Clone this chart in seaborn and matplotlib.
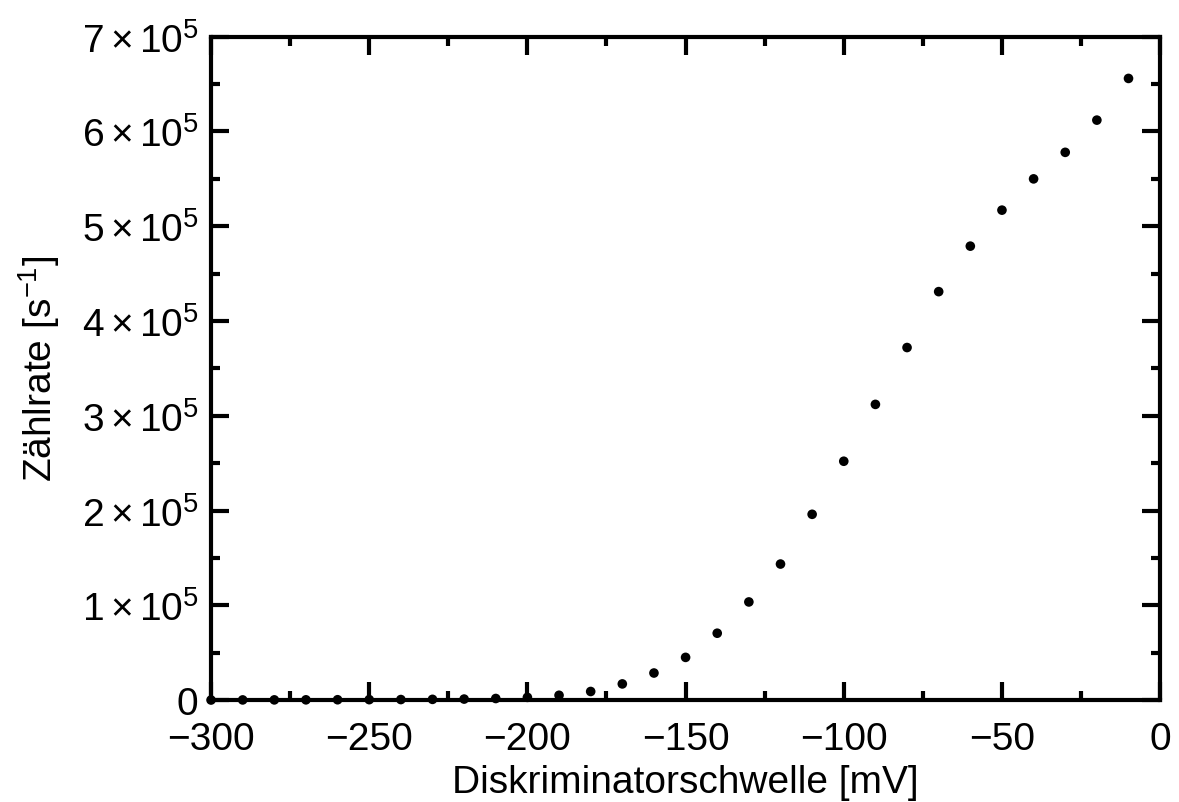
import numpy as np
import matplotlib
matplotlib.use("Agg")
import matplotlib.pyplot as plt
import matplotlib.ticker as mticker
import pandas as pd
import seaborn as sns

# Discriminator threshold in mV and count rate in 1/s
threshold = [-300, -290, -280, -270, -260, -250, -240, -230, -220, -210,
             -200, -190, -180, -170, -160, -150, -140, -130, -120, -110,
             -100, -90, -80, -70, -60, -50, -40, -30, -20, -10]
rate = [0, 100, 150, 200, 300, 400, 500, 700, 1000, 1600,
        2800, 5000, 9000, 17000, 28500, 45000, 70500, 103500, 143500, 196000,
        252000, 312000, 372000, 431000, 479000, 517000, 550000, 578000, 612000, 656000]

df = pd.DataFrame({'threshold': threshold, 'rate': rate})

sns.set_style("ticks")
plt.rcParams['font.family'] = ['Liberation Sans', 'DejaVu Sans']
plt.rcParams['mathtext.fontset'] = 'custom'
plt.rcParams['mathtext.rm'] = 'Liberation Sans'
plt.rcParams['mathtext.it'] = 'Liberation Sans:italic'
plt.rcParams['mathtext.bf'] = 'Liberation Sans:bold'
plt.rcParams['text.color'] = 'black'
plt.rcParams['axes.labelcolor'] = 'black'
plt.rcParams['axes.edgecolor'] = 'black'
plt.rcParams['xtick.color'] = 'black'
plt.rcParams['ytick.color'] = 'black'

fig = plt.figure(figsize=(11.79, 8.03), dpi=100)
ax = fig.add_axes([0.179, 0.127, 0.805, 0.826])

sns.scatterplot(data=df, x='threshold', y='rate', ax=ax, color='black',
                s=48, edgecolor='none', linewidth=0, clip_on=False, zorder=3)

ax.set_xlim(-300, 0)
ax.set_ylim(0, 7e5)
ax.xaxis.set_major_locator(mticker.MultipleLocator(50))
ax.xaxis.set_minor_locator(mticker.MultipleLocator(25))
ax.yaxis.set_major_locator(mticker.MultipleLocator(1e5))
ax.yaxis.set_minor_locator(mticker.MultipleLocator(0.5e5))


def sci_fmt(v, pos):
    n = int(round(v / 1e5))
    if n == 0:
        return '0'
    return r'$%d\times10^5$' % n


ax.yaxis.set_major_formatter(mticker.FuncFormatter(sci_fmt))

for side in ['top', 'right', 'bottom', 'left']:
    ax.spines[side].set_visible(True)
    ax.spines[side].set_linewidth(3)
ax.tick_params(which='both', direction='in', top=True, right=True, width=3,
               labelsize=28, colors='black')
ax.tick_params(which='major', length=13)
ax.tick_params(which='minor', length=6.5)
ax.tick_params(axis='x', which='major', pad=15)
ax.tick_params(axis='y', which='major', pad=9)

ax.set_xlabel('Diskriminatorschwelle [mV]', fontsize=28, labelpad=5)
ax.set_ylabel(r'Zählrate [s$^{-1}$]', fontsize=28, labelpad=14)

fig.savefig('out.png', dpi=100)
plt.close(fig)
